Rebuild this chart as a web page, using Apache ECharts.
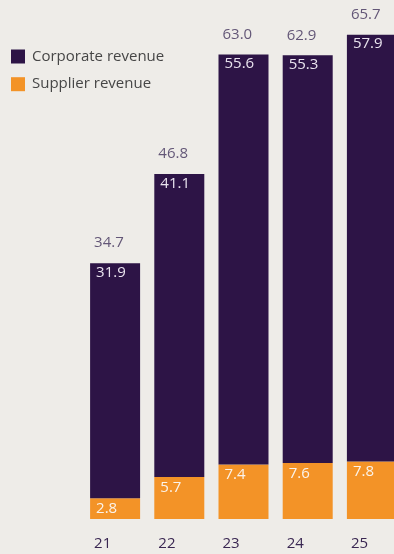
<!DOCTYPE html>
<html>
<head>
<meta charset="utf-8">
<script src="https://cdn.jsdelivr.net/npm/echarts@6/dist/echarts.min.js"></script>
<style>
  html, body { margin: 0; padding: 0; background: #eeece8; overflow: hidden; }
  /* the chart is a little wider than the page so the last bar runs off the right edge */
  #chart { width: 404px; height: 554px; }
</style>
</head>
<body>
<div id="chart"></div>
<script>
// Revenue by year, split into corporate and supplier revenue
const years = ['21', '22', '23', '24', '25'];
const corporateRevenue = [31.9, 41.1, 55.6, 55.3, 57.9];
const supplierRevenue = [2.8, 5.7, 7.4, 7.6, 7.8];
const totalRevenue = years.map((_, i) => +(corporateRevenue[i] + supplierRevenue[i]).toFixed(1));

const FONT = '"Open Sans", sans-serif';
const PURPLE = '#2d1446';
const ORANGE = '#f39327';

const chart = echarts.init(document.getElementById('chart'), null, { renderer: 'canvas' });

chart.setOption({
  backgroundColor: '#eeece8',
  animation: false,
  textStyle: { fontFamily: FONT },
  legend: {
    orient: 'vertical',
    left: 11,
    top: 49,
    padding: 0,
    itemWidth: 14,
    itemHeight: 14,
    itemGap: 12.7,
    icon: 'rect',
    data: ['Corporate revenue', 'Supplier revenue'],
    textStyle: { color: '#464646', fontSize: 15, fontFamily: FONT, padding: [0, 0, 0, 2] }
  },
  grid: { left: 83, top: 3, right: 0, bottom: 35 },
  xAxis: {
    type: 'category',
    data: years,
    axisLine: { show: false },
    axisTick: { show: false },
    // year labels sit left-aligned under each bar, like the totals above
    axisLabel: {
      color: '#3a2752',
      fontSize: 15,
      margin: 17,
      fontFamily: FONT,
      align: 'left',
      padding: [0, 0, 0, -21]
    }
  },
  yAxis: {
    type: 'value',
    min: 0,
    max: 70,
    show: false,
    splitLine: { show: false }
  },
  series: [
    {
      name: 'Supplier revenue',
      type: 'bar',
      stack: 'rev',
      data: supplierRevenue,
      barWidth: 50,
      itemStyle: { color: ORANGE },
      label: {
        show: true,
        position: 'insideTopLeft',
        distance: 0,
        offset: [6, 3],
        color: '#fbf3ea',
        fontSize: 15,
        fontFamily: FONT,
        formatter: p => p.value.toFixed(1)
      }
    },
    {
      name: 'Corporate revenue',
      type: 'bar',
      stack: 'rev',
      data: corporateRevenue,
      barWidth: 50,
      itemStyle: { color: PURPLE },
      label: {
        show: true,
        position: 'insideTopLeft',
        distance: 0,
        offset: [6, 2],
        color: '#e9e3ee',
        fontSize: 15,
        fontFamily: FONT,
        formatter: p => p.value.toFixed(1)
      }
    },
    {
      name: 'Total',
      type: 'scatter',
      data: totalRevenue,
      symbolSize: 0,
      silent: true,
      label: {
        show: true,
        position: 'top',
        distance: 0,
        align: 'left',
        verticalAlign: 'middle',
        offset: [-21, -20],
        color: '#40315a',
        fontSize: 15,
        fontFamily: FONT,
        formatter: p => p.value.toFixed(1)
      }
    }
  ]
});
</script>
</body>
</html>
